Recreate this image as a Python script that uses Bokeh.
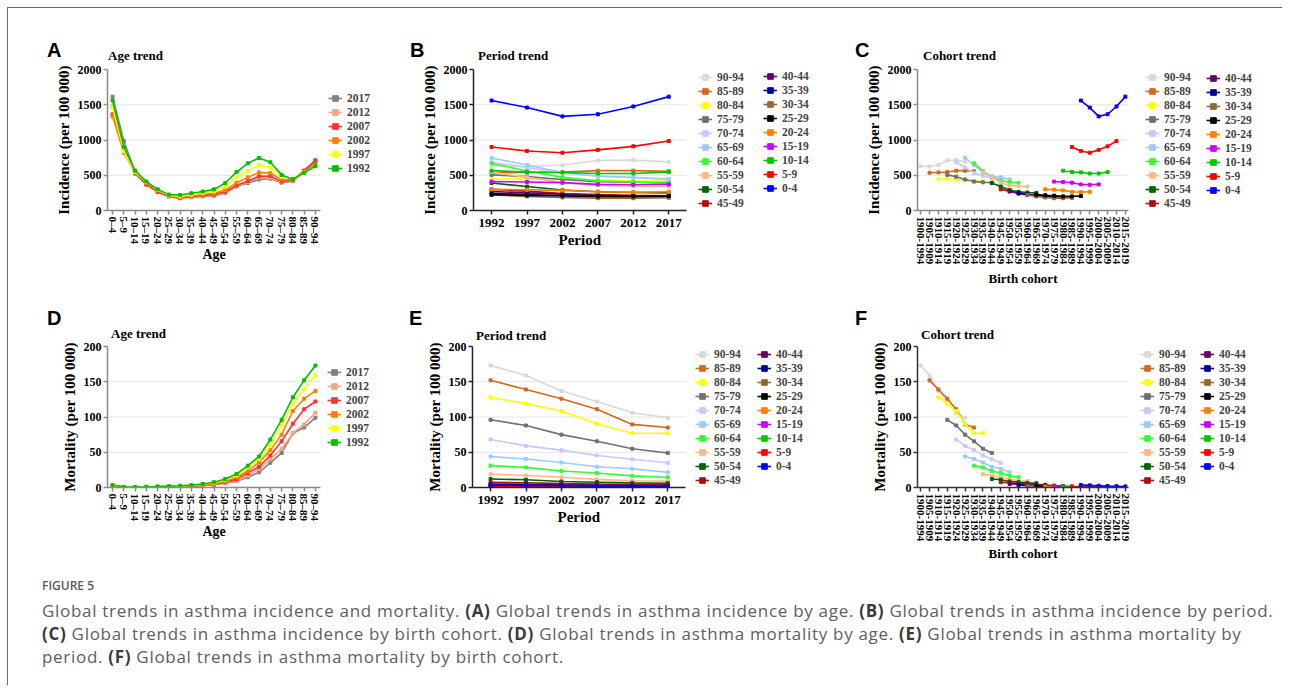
from bokeh.plotting import figure
from bokeh.models import Legend, LegendItem, FixedTicker, Range1d, Div, Title
from bokeh.layouts import row, column
from bokeh.embed import file_html
from bokeh.resources import INLINE

# ---------------- data ----------------
age_groups = ["0-4", "5-9", "10-14", "15-19", "20-24", "25-29", "30-34", "35-39",
              "40-44", "45-49", "50-54", "55-59", "60-64", "65-69", "70-74",
              "75-79", "80-84", "85-89", "90-94"]
age_tick_labels = ["0–4", "5–9", "10–14", "15–19", "20–24", "25–29", "30–34", "35–39",
                   "40–44", "45–49", "50–54", "55–59", "60–64", "65–69", "70–74",
                   "75–79", "80–84", "85–89", "90–94"]
periods = [1992, 1997, 2002, 2007, 2012, 2017]
cohort_labels = ["1900-1994", "1905-1909", "1910-1914", "1915-1919", "1920-1924",
                 "1925-1929", "1930-1934", "1935-1939", "1940-1944", "1945-1949",
                 "1950-1954", "1955-1959", "1960-1964", "1965-1969", "1970-1974",
                 "1975-1979", "1980-1984", "1985-1989", "1990-1994", "1995-1999",
                 "2000-2004", "2005-2009", "2010-2014", "2015-2019"]

# incidence per 100 000 by age group, periods 1992..2017
inc_0_4 = [1560, 1460, 1335, 1365, 1475, 1615]
inc_5_9 = [900, 845, 820, 860, 910, 985]
inc_10_14 = [565, 545, 540, 525, 525, 545]
inc_15_19 = [410, 405, 395, 370, 365, 370]
inc_20_24 = [300, 295, 285, 265, 260, 265]
inc_25_29 = [225, 215, 210, 200, 200, 205]
inc_30_34 = [220, 200, 185, 175, 175, 180]
inc_35_39 = [245, 225, 210, 200, 195, 190]
inc_40_44 = [270, 250, 230, 215, 205, 200]
inc_45_49 = [300, 275, 240, 225, 215, 210]
inc_50_54 = [390, 340, 290, 265, 255, 250]
inc_55_59 = [545, 470, 395, 355, 345, 340]
inc_60_64 = [670, 560, 470, 420, 405, 390]
inc_65_69 = [745, 645, 540, 485, 470, 440]
inc_70_74 = [685, 610, 530, 490, 465, 450]
inc_75_79 = [505, 480, 440, 410, 400, 395]
inc_80_84 = [445, 450, 440, 430, 420, 415]
inc_85_89 = [535, 540, 545, 565, 565, 555]
inc_90_94 = [630, 625, 645, 710, 715, 690]

# mortality per 100 000 by age group, periods 1992..2017
mort_0_4 = [3.5, 3.0, 2.5, 2.0, 1.8, 1.5]
mort_5_9 = [0.9, 0.8, 0.7, 0.6, 0.6, 0.5]
mort_10_14 = [0.7, 0.6, 0.6, 0.5, 0.5, 0.4]
mort_15_19 = [1.0, 0.9, 0.8, 0.7, 0.7, 0.6]
mort_20_24 = [1.4, 1.3, 1.1, 1.0, 0.9, 0.8]
mort_25_29 = [1.9, 1.7, 1.5, 1.3, 1.2, 1.1]
mort_30_34 = [2.5, 2.2, 1.9, 1.7, 1.5, 1.4]
mort_35_39 = [3.4, 3.0, 2.6, 2.3, 2.1, 1.9]
mort_40_44 = [5.0, 4.5, 3.8, 3.3, 3.0, 2.7]
mort_45_49 = [7.5, 6.8, 5.5, 4.8, 4.3, 3.8]
mort_50_54 = [12.0, 11.0, 8.5, 7.5, 6.5, 6.0]
mort_55_59 = [19.0, 17.0, 14.5, 11.5, 9.5, 9.0]
mort_60_64 = [31.0, 28.5, 23.5, 20.5, 16.5, 14.5]
mort_65_69 = [44.0, 40.5, 35.5, 29.5, 26.5, 21.5]
mort_70_74 = [68.0, 59.0, 53.0, 45.5, 40.0, 35.0]
mort_75_79 = [96.0, 88.0, 75.0, 65.5, 55.0, 49.0]
mort_80_84 = [128.0, 119.0, 108.5, 90.5, 77.0, 77.0]
mort_85_89 = [152.0, 139.0, 126.0, 111.0, 89.5, 85.0]
mort_90_94 = [173.0, 159.0, 137.0, 122.0, 106.0, 99.0]

incidence = [inc_0_4, inc_5_9, inc_10_14, inc_15_19, inc_20_24, inc_25_29, inc_30_34,
             inc_35_39, inc_40_44, inc_45_49, inc_50_54, inc_55_59, inc_60_64,
             inc_65_69, inc_70_74, inc_75_79, inc_80_84, inc_85_89, inc_90_94]
mortality = [mort_0_4, mort_5_9, mort_10_14, mort_15_19, mort_20_24, mort_25_29,
             mort_30_34, mort_35_39, mort_40_44, mort_45_49, mort_50_54, mort_55_59,
             mort_60_64, mort_65_69, mort_70_74, mort_75_79, mort_80_84, mort_85_89,
             mort_90_94]

age_colors = ["#0000ff", "#ff0000", "#00c800", "#cc00ff", "#ff8000", "#000000",
              "#996633", "#000099", "#660066", "#aa1111", "#006400", "#ffb888",
              "#33ff33", "#99ccff", "#c8c8ff", "#707070", "#ffff00", "#d2691e",
              "#d9d9d9"]
period_colors = ["#00c000", "#ffff00", "#ff7f00", "#ff3333", "#f4a582", "#808080"]

SERIF = "Liberation Serif"
FRAME_H = 141
STEP = 14


def make_fig(left, axis_w, total_w, top, bottom, x_lo, x_hi, ymax, yticks, axis_color):
    # the frame is widened to the right so that the legends sit inside it;
    # the axis line, ticks and grid stop at the end of the real data range.
    x_ext = x_lo + (x_hi - x_lo) * total_w / axis_w
    p = figure(frame_width=total_w, frame_height=FRAME_H, min_border_left=left,
               min_border_right=0, min_border_top=top, min_border_bottom=bottom,
               x_range=Range1d(x_lo, x_ext), y_range=Range1d(0, ymax),
               output_backend="svg", title=None, toolbar_location=None, tools="")
    p.outline_line_color = None
    p.xgrid.visible = False
    p.ygrid.visible = False
    p.border_fill_color = "white"
    grid_vals = yticks[1:-1]
    p.segment(x0=[x_lo] * len(grid_vals), x1=[x_hi] * len(grid_vals),
              y0=grid_vals, y1=grid_vals, line_color="#e4e4e4", line_width=1)
    p.xaxis[0].bounds = (x_lo, x_hi)
    p.yaxis[0].bounds = (0, ymax)
    for ax in (p.xaxis[0], p.yaxis[0]):
        ax.axis_line_color = axis_color
        ax.axis_line_width = 1.5
        ax.major_tick_line_color = axis_color
        ax.major_tick_line_width = 1.5
        ax.major_tick_out = 4
        ax.major_tick_in = 0
        ax.minor_tick_line_color = None
        ax.major_label_text_font = SERIF
        ax.major_label_text_font_style = "bold"
        ax.major_label_text_color = "black"
        ax.axis_label_text_font = SERIF
        ax.axis_label_text_font_style = "bold"
        ax.axis_label_text_color = "black"
        ax.axis_label_text_font_size = "15px"
    p.yaxis[0].ticker = FixedTicker(ticks=yticks)
    p.yaxis[0].major_label_text_font_size = "12px"
    p.yaxis[0].major_label_standoff = 2
    p.yaxis[0].axis_label_standoff = 3
    return p


def x_title(p, text, size, offset, standoff):
    # x-axis title, centred under the data part of the (widened) frame
    t = Title(text=text, align="left", offset=offset, standoff=standoff,
              text_font=SERIF, text_font_style="bold", text_font_size=size,
              text_color="black")
    p.add_layout(t, "below")


def make_legend(items, x, y):
    lg = Legend(items=items, location=(x, y), orientation="vertical")
    lg.padding = 0
    lg.margin = 0
    lg.spacing = 0
    lg.border_line_color = None
    lg.background_fill_alpha = 0
    lg.label_text_font = SERIF
    lg.label_text_font_style = "bold"
    lg.label_text_font_size = "11.5px"
    lg.label_height = STEP
    lg.glyph_height = STEP
    lg.glyph_width = 14
    lg.label_standoff = 5
    return lg


def draw_series(p, xs, ys, color):
    r1 = p.line(xs, ys, line_color=color, line_width=1.6)
    r2 = p.scatter(xs, ys, marker="square", size=3, fill_color=color, line_color=color)
    return [r1, r2]


def age_panel(data, ymax, yticks, ylabel, left, total_w, top, bottom, axis_color, tstand):
    p = make_fig(left, 213, total_w, top, bottom, -0.45, 18.45, ymax, yticks, axis_color)
    p.xaxis[0].ticker = FixedTicker(ticks=list(range(len(age_groups))))
    p.xaxis[0].major_label_overrides = {i: s for i, s in enumerate(age_tick_labels)}
    p.xaxis[0].major_label_orientation = "vertical"
    p.xaxis[0].major_label_text_font_size = "11px"
    p.xaxis[0].major_label_standoff = 2
    p.yaxis[0].axis_label = ylabel
    x_title(p, "Age", "14px", 95, tstand)
    items = []
    for j in range(len(periods) - 1, -1, -1):
        rs = draw_series(p, list(range(len(age_groups))),
                         [data[a][j] for a in range(len(age_groups))], period_colors[j])
        items.append(LegendItem(label=str(periods[j]), renderers=rs))
    return p, items


def period_panel(data, ymax, yticks, ylabel, left, total_w, top, bottom, axis_color, tstand):
    p = make_fig(left, 213, total_w, top, bottom, 1989.45, 2019.5, ymax, yticks, axis_color)
    p.xaxis[0].ticker = FixedTicker(ticks=periods)
    p.xaxis[0].major_label_text_font_size = "13px"
    p.xaxis[0].major_label_standoff = 4
    p.yaxis[0].axis_label = ylabel
    x_title(p, "Period", "15px", 85, tstand)
    items = {}
    for a in range(len(age_groups) - 1, -1, -1):
        rs = draw_series(p, periods, data[a], age_colors[a])
        items[a] = LegendItem(label=age_groups[a], renderers=rs)
    return p, items


def cohort_panel(data, ymax, yticks, ylabel, left, total_w, top, bottom, axis_color, tstand):
    n = len(cohort_labels)
    p = make_fig(left, 211, total_w, top, bottom, -0.35, n - 1 + 0.35, ymax, yticks,
                 axis_color)
    p.xaxis[0].ticker = FixedTicker(ticks=list(range(n)))
    p.xaxis[0].major_label_overrides = {i: s for i, s in enumerate(cohort_labels)}
    p.xaxis[0].major_label_orientation = "vertical"
    p.xaxis[0].major_label_text_font_size = "11px"
    p.xaxis[0].major_label_standoff = 2
    p.yaxis[0].axis_label = ylabel
    x_title(p, "Birth cohort", "13px", 71, tstand)
    items = {}
    last_age = len(age_groups) - 1
    for a in range(last_age, -1, -1):
        xs = [j + (last_age - a) for j in range(len(periods))]
        rs = draw_series(p, xs, data[a], age_colors[a])
        items[a] = LegendItem(label=age_groups[a], renderers=rs)
    return p, items


def legend_bottom(first_center, n):
    # legend bottom offset from the frame bottom, for a first row centred at
    # first_center px below the frame top
    return int(round(FRAME_H - (first_center - STEP / 2 + n * STEP)))


def one_legend(p, items, x, c0):
    p.add_layout(make_legend(items, x, legend_bottom(c0, len(items))), "center")


def two_col_legends(p, items, x1, c1, x2, c2):
    col1 = [items[a] for a in range(18, 8, -1)]
    col2 = [items[a] for a in range(8, -1, -1)]
    y1 = legend_bottom(c1, len(col1))
    y2 = legend_bottom(c2, len(col2))
    shift = max(0, -y1)          # keep the legends inside the frame
    p.add_layout(make_legend(col1, x1, y1 + shift), "center")
    p.add_layout(make_legend(col2, x2, y2 + shift), "center")


INC_Y = "Incidence (per 100 000)"
MORT_Y = "Mortality (per 100 000)"
inc_ticks = [0, 500, 1000, 1500, 2000]
mort_ticks = [0, 50, 100, 150, 200]

# ---------------- row 1 : incidence ----------------
pA, itA = age_panel(incidence, 2000, inc_ticks, INC_Y, 99, 293, 7, 80, "#8a8a8a", -5)
one_legend(pA, itA, 221, 29)

pB, itB = period_panel(incidence, 2000, inc_ticks, INC_Y, 73, 357, 7, 80, "#222222", 0)
two_col_legends(pB, itB, 225, 17, 290, 16)

pC, itC = cohort_panel(incidence, 2000, inc_ticks, INC_Y, 87, 365, 7, 80, "#8a8a8a", 3)
two_col_legends(pC, itC, 228, 14, 289, 15)

# ---------------- row 2 : mortality ----------------
pD, itD = age_panel(mortality, 200, mort_ticks, MORT_Y, 99, 293, 5, 69, "#8a8a8a", -5)
one_legend(pD, itD, 220, 26)

pE, itE = period_panel(mortality, 200, mort_ticks, MORT_Y, 72, 358, 5, 69, "#222222", 0)
two_col_legends(pE, itE, 223, 15, 285, 15)

pF, itF = cohort_panel(mortality, 200, mort_ticks, MORT_Y, 87, 365, 5, 69, "#333333", -2)
two_col_legends(pF, itF, 223, 15, 283, 15)


# ---------------- panel letters and sub-titles ----------------
def strip(height, entries):
    parts = []
    for kind, txt, left, top in entries:
        if kind == "letter":
            style = ("position:absolute;left:%dpx;top:%dpx;font-family:'Liberation Sans';"
                     "font-weight:bold;font-size:20px;line-height:20px;color:#000;" % (left, top))
        else:
            style = ("position:absolute;left:%dpx;top:%dpx;font-family:'Liberation Serif';"
                     "font-weight:bold;font-size:13px;line-height:14px;color:#000;"
                     "white-space:nowrap;" % (left, top))
        parts.append("<span style=\"%s\">%s</span>" % (style, txt))
    html = ("<div style='position:relative;width:1274px;height:%dpx;'>%s</div>"
            % (height, "".join(parts)))
    return Div(text=html, width=1274, height=height, margin=0)


strip1 = strip(54, [("letter", "A", 39, 32), ("letter", "B", 402, 32), ("letter", "C", 847, 32),
                    ("title", "Age trend", 100, 41), ("title", "Period trend", 470, 41),
                    ("title", "Cohort trend", 915, 41)])
strip2 = strip(51, [("letter", "D", 39, 18), ("letter", "E", 401, 18), ("letter", "F", 847, 18),
                    ("title", "Age trend", 103, 37), ("title", "Period trend", 468, 39),
                    ("title", "Cohort trend", 913, 38)])

B = "<b style='color:#3a3a3a;font-weight:700'>"
caption_html = (
    "<div style=\"font-family:'Open Sans',sans-serif;color:#5e5e5e;padding-left:34px;\">"
    "<div style='font-size:12px;line-height:14px;font-weight:600;color:#5a5a5a;margin-top:20px;'>FIGURE 5</div>"
    "<div style='font-size:17px;line-height:23px;letter-spacing:0.7px;white-space:nowrap;margin-top:6px;'>"
    "Global trends in asthma incidence and mortality. " + B + "(A)</b> Global trends in asthma "
    "incidence by age. " + B + "(B)</b> Global trends in asthma incidence by period.<br>"
    + B + "(C)</b> Global trends in asthma incidence by birth cohort. " + B + "(D)</b> "
    "Global trends in asthma mortality by age. " + B + "(E)</b> Global trends in asthma mortality by<br>"
    "period. " + B + "(F)</b> Global trends in asthma mortality by birth cohort."
    "</div></div>"
)
cap = Div(text=caption_html, width=1274, height=126, margin=0)

layout = column(strip1, row(pA, pB, pC), strip2, row(pD, pE, pF), cap,
                margin=(7, 0, 0, 7),
                styles={"border-left": "1px solid #6b6b6b", "border-top": "1px solid #6b6b6b"})

open("out.html", "w").write(file_html(layout, INLINE))
